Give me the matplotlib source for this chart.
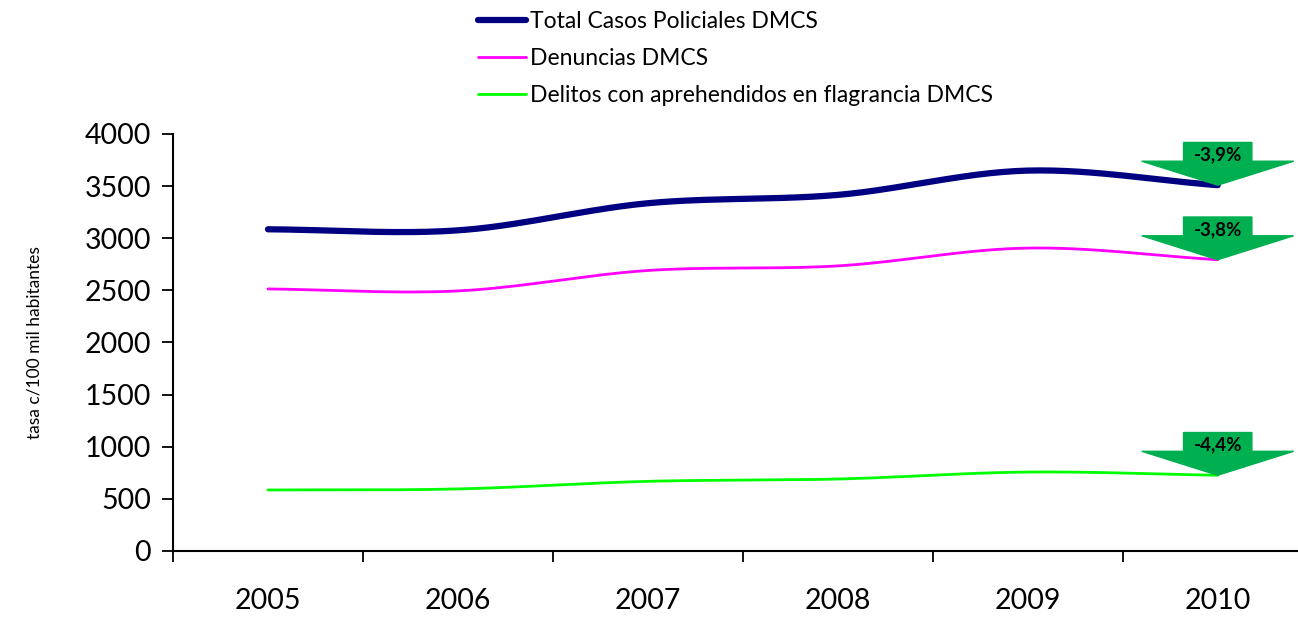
import matplotlib.pyplot as plt
import numpy as np
from matplotlib.patches import Polygon

plt.rcParams['font.family'] = ['Lato', 'DejaVu Sans']

years = ['2005', '2006', '2007', '2008', '2009', '2010']
total = [3085, 3075, 3335, 3415, 3648, 3508]
denuncias = [2513, 2494, 2690, 2734, 2905, 2793]
flagrancia = [585, 595, 668, 690, 757, 726]
labels = ['Total Casos Policiales DMCS', 'Denuncias DMCS',
          'Delitos con aprehendidos en flagrancia DMCS']
changes = ['-3,9%', '-3,8%', '-4,4%']


def smooth(y, n=30):
    # catmull-rom, similar to excel smoothed lines
    y = np.asarray(y, float)
    p = np.concatenate([[2 * y[0] - y[1]], y, [2 * y[-1] - y[-2]]])
    xs, ys = [], []
    for i in range(len(y) - 1):
        t = np.linspace(0, 1, n, endpoint=False)
        p0, p1, p2, p3 = p[i], p[i + 1], p[i + 2], p[i + 3]
        ys.append(0.5 * (2 * p1 + (-p0 + p2) * t + (2 * p0 - 5 * p1 + 4 * p2 - p3) * t ** 2
                         + (-p0 + 3 * p1 - 3 * p2 + p3) * t ** 3))
        xs.append(i + t)
    xs.append([len(y) - 1])
    ys.append([y[-1]])
    return np.concatenate(xs), np.concatenate(ys)


fig = plt.figure(figsize=(12.98, 6.17), dpi=100)
ax = fig.add_axes([0.1333, 0.107, 0.878, 0.676])

series = [total, denuncias, flagrancia]
colors = ['#000080', '#FF00FF', '#00FF00']
widths = [4.5, 2, 2]
for s, c, w, lab in zip(series, colors, widths, labels):
    xs, ys = smooth(s)
    ax.plot(xs, ys, color=c, lw=w, label=lab, solid_capstyle='round')

# arrows with the change
green = '#00B050'
for s, txt in zip(series, changes):
    x0, y0 = len(s) - 1, s[-1]
    hw, sw = 0.40, 0.18
    hh, sh = 230, 180
    pts = [(x0, y0), (x0 - hw, y0 + hh), (x0 - sw, y0 + hh), (x0 - sw, y0 + hh + sh),
           (x0 + sw, y0 + hh + sh), (x0 + sw, y0 + hh), (x0 + hw, y0 + hh)]
    ax.add_patch(Polygon(pts, closed=True, color=green, zorder=3, clip_on=False))
    ax.text(x0, y0 + hh + 60, txt, ha='center', va='center', fontsize=13.5,
            fontweight='bold', zorder=4)

ax.set_xlim(-0.5, 5.5)
ax.set_ylim(0, 4000)
ax.set_yticks(np.arange(0, 4001, 500))
ax.set_xticks(range(len(years)))
ax.set_xticklabels(years)
ax.set_xticks(np.arange(-0.5, 6, 1), minor=True)
ax.tick_params(axis='x', which='major', length=0, pad=27, labelsize=20.5)
ax.tick_params(axis='x', which='minor', length=8, width=1.3, direction='out')
ax.tick_params(axis='y', length=8, width=1.3, labelsize=20.5, pad=8)
ax.spines['top'].set_visible(False)
ax.spines['right'].set_visible(False)
ax.spines['left'].set_linewidth(1.5)
ax.spines['bottom'].set_linewidth(1.5)
ax.set_ylabel('tasa c/100 mil habitantes', fontsize=12.5, labelpad=30)

fig.legend(loc='upper left', bbox_to_anchor=(0.352, 1.015), frameon=False,
           fontsize=16.5, labelspacing=0.7, handlelength=2.1, handletextpad=0.2)

fig.savefig('out.png', dpi=100)
